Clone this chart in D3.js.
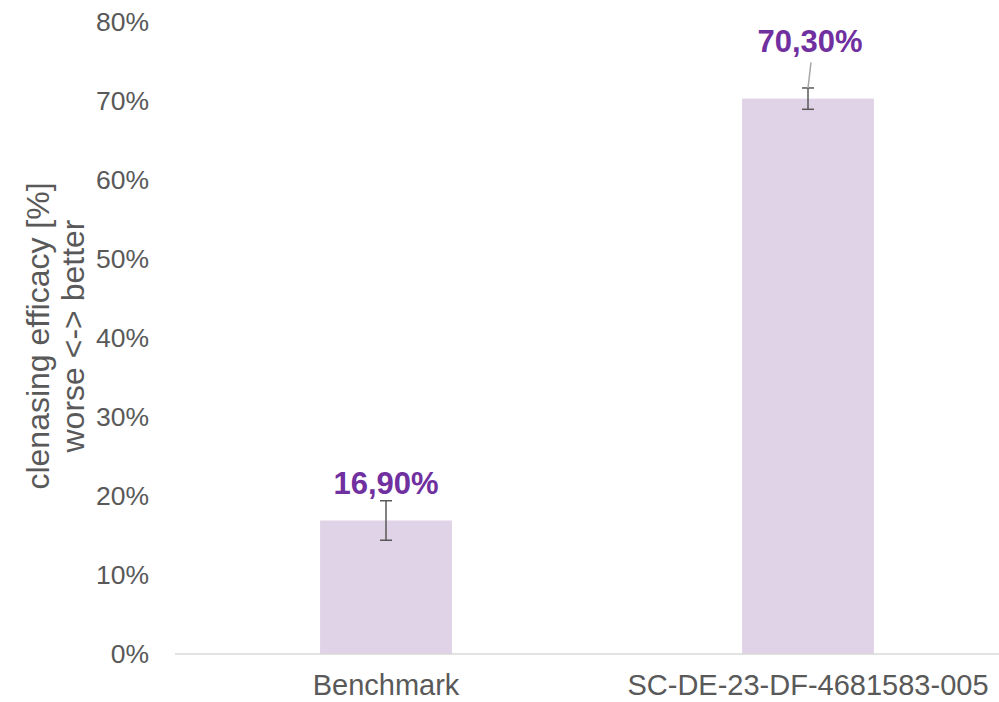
<!DOCTYPE html>
<html>
<head>
<meta charset="utf-8">
<script src="https://cdn.jsdelivr.net/npm/d3@7"></script>
<style>
  body { margin: 0; background: #fff; }
  svg { display: block; font-family: "Liberation Sans", Arial, sans-serif; }
</style>
</head>
<body>
<svg width="999" height="702"></svg>
<script>
// chart data
const categories = ['Benchmark', 'SC-DE-23-DF-4681583-005']
const values = [0.169, 0.703]
const errors = [0.025, 0.0135]
const valueLabels = ['16,90%', '70,30%']
const yTicks = [0, 0.1, 0.2, 0.3, 0.4, 0.5, 0.6, 0.7, 0.8]
// extra lift for labels that were pushed up (with leader line)
const labelLift = [0, 0.037]

const svg = d3.select('svg')
const margin = { left: 175, top: 22, bottom: 48 }
const plotW = 844
const height = 702

const x = d3.scaleBand()
  .domain(categories)
  .range([margin.left, margin.left + plotW])
  .paddingInner(0.6875)
  .paddingOuter(0.34375)

const y = d3.scaleLinear()
  .domain([0, 0.8])
  .range([height - margin.bottom, margin.top])

// y tick labels (no axis line)
svg.append('g')
  .selectAll('text')
  .data(yTicks)
  .enter().append('text')
    .attr('x', 149)
    .attr('y', d => y(d))
    .attr('dy', '0.35em')
    .attr('text-anchor', 'end')
    .attr('fill', '#595959')
    .attr('font-size', 26.5)
    .text(d => d3.format('.0%')(d))

// bars
svg.append('g')
  .selectAll('rect')
  .data(values)
  .enter().append('rect')
    .attr('x', (d, i) => x(categories[i]))
    .attr('y', d => y(d))
    .attr('width', x.bandwidth())
    .attr('height', d => y(0) - y(d))
    .attr('fill', '#e0d3e7')

// x axis line
svg.append('line')
  .attr('x1', margin.left)
  .attr('x2', 999)
  .attr('y1', y(0))
  .attr('y2', y(0))
  .attr('stroke', '#d9d9d9')
  .attr('stroke-width', 1.5)

// error bars
const eb = svg.append('g').attr('stroke', '#595959').attr('stroke-width', 1.5)
values.forEach((v, i) => {
  const cx = x(categories[i]) + x.bandwidth() / 2
  eb.append('line')
    .attr('x1', cx).attr('x2', cx)
    .attr('y1', y(v + errors[i])).attr('y2', y(v - errors[i]))
  ;[v + errors[i], v - errors[i]].forEach(e => {
    eb.append('line')
      .attr('x1', cx - 6).attr('x2', cx + 6)
      .attr('y1', y(e)).attr('y2', y(e))
  })
})

// leader lines for lifted labels
values.forEach((v, i) => {
  if (!labelLift[i]) return
  const cx = x(categories[i]) + x.bandwidth() / 2
  svg.append('line')
    .attr('x1', cx + 3).attr('x2', cx)
    .attr('y1', y(v + errors[i] + 0.0325)).attr('y2', y(v + errors[i]))
    .attr('stroke', '#a6a6a6')
    .attr('stroke-width', 1.5)
})

// value labels
svg.append('g')
  .selectAll('text')
  .data(values)
  .enter().append('text')
    .attr('x', (d, i) => x(categories[i]) + x.bandwidth() / 2 + (labelLift[i] ? 2 : 0))
    .attr('y', (d, i) => y(d + errors[i] + labelLift[i]) - 7)
    .attr('text-anchor', 'middle')
    .attr('fill', '#7030a0')
    .attr('font-size', 31)
    .attr('font-weight', 'bold')
    .text((d, i) => valueLabels[i])

// category labels
svg.append('g')
  .selectAll('text')
  .data(categories)
  .enter().append('text')
    .attr('x', d => x(d) + x.bandwidth() / 2)
    .attr('y', 695)
    .attr('text-anchor', 'middle')
    .attr('fill', '#595959')
    .attr('font-size', 29)
    .text(d => d)

// y axis title
const title = svg.append('text')
  .attr('transform', 'translate(38,336) rotate(-90)')
  .attr('text-anchor', 'middle')
  .attr('fill', '#595959')
  .attr('font-size', 32)
title.append('tspan').attr('x', 0).attr('dy', '0.35em').text('clenasing efficacy [%]')
title.append('tspan').attr('x', 0).attr('dy', '1.1em').text('worse <-> better')
</script>
</body>
</html>
